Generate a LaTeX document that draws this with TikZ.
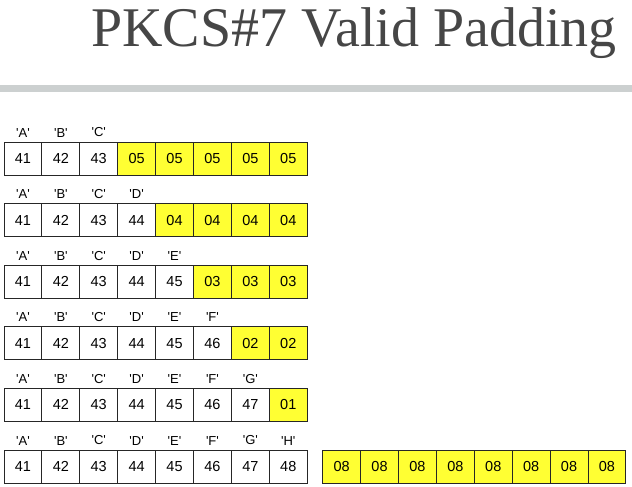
\documentclass[tikz,border=0pt]{standalone}
\usepackage{fontspec}
\setmainfont{Liberation Serif}
\setsansfont{Liberation Sans}
\definecolor{padyellow}{RGB}{255,255,51}
\definecolor{titlegray}{RGB}{70,70,70}
\definecolor{rulegray}{RGB}{204,208,208}
\newcommand{\chr}[1]{\textquotesingle#1\textquotesingle}
\begin{document}
\begin{tikzpicture}[x=1pt,y=-1pt,inner sep=0pt,outer sep=0pt,
byte/.style={draw=black!85,rectangle,minimum width=37.9pt,minimum height=33pt,line width=0.9pt,text=black,font=\sffamily\fontsize{14.5}{14.5}\selectfont},
pad/.style={byte,fill=padyellow},
chrlabel/.style={text=black,font=\sffamily\fontsize{13}{13}\selectfont}]
\useasboundingbox (0,0) rectangle (632,487);
\node[anchor=base east,text=titlegray,font=\rmfamily\fontsize{56}{56}\selectfont] (title) at (617,47) {PKCS\#7 Valid Padding};
\fill[rulegray] (0,85) rectangle (632,92);

% one block per row, padding in yellow
\foreach \r in {1,...,5} {
  \pgfmathtruncatemacro{\ndata}{\r+2}
  \pgfmathtruncatemacro{\npad}{6-\r}
  \foreach \i/\hex/\c in {1/41/A,2/42/B,3/43/C,4/44/D,5/45/E,6/46/F,7/47/G,8/48/H} {
    \ifnum\i>\ndata
      \node[pad] (b\r-\i) at ({4+37.9*(\i-0.5)},{158.5+61.6*(\r-1)}) {0\npad};
    \else
      \node[byte,label={[chrlabel,label distance=5pt]above:\chr{\c}}] (b\r-\i) at ({4+37.9*(\i-0.5)},{158.5+61.6*(\r-1)}) {\hex};
    \fi
  }
}
% full block of data, then a whole block of padding
\foreach \i/\hex/\c in {1/41/A,2/42/B,3/43/C,4/44/D,5/45/E,6/46/F,7/47/G,8/48/H} {
  \node[byte,label={[chrlabel,label distance=5pt]above:\chr{\c}}] (b6-\i) at ({4+37.9*(\i-0.5)},466.5) {\hex};
  \node[pad] (p6-\i) at ({322.7+37.9*(\i-0.5)},466.5) {08};
}
\end{tikzpicture}
\end{document}
